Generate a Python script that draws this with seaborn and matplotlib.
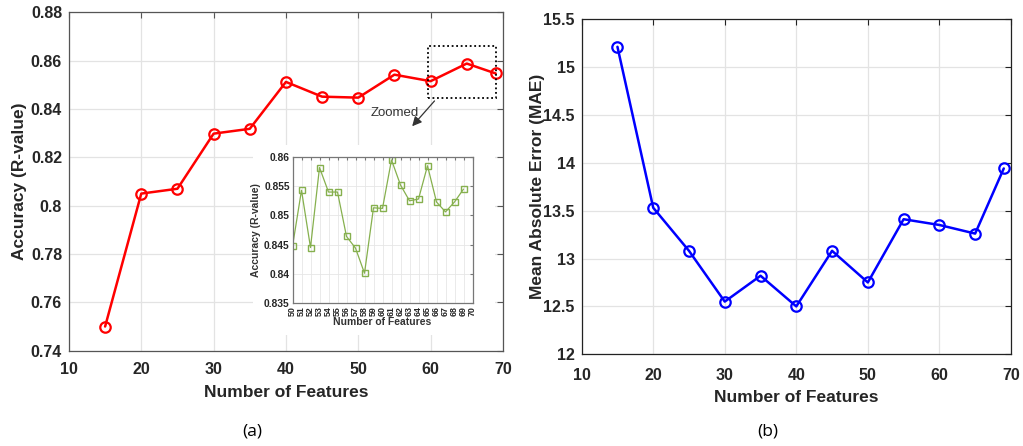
import numpy as np
import pandas as pd
import matplotlib
matplotlib.use("Agg")
import matplotlib.pyplot as plt
from matplotlib.patches import Rectangle
import seaborn as sns

# ---- data -------------------------------------------------------------
features = [15, 20, 25, 30, 35, 40, 45, 50, 55, 60, 65, 69]
accuracy = [0.750, 0.805, 0.807, 0.8298, 0.8318, 0.8512, 0.8451, 0.8447,
            0.8542, 0.8515, 0.8588, 0.8547]
mae = [15.21, 13.53, 13.08, 12.55, 12.82, 12.50, 13.08, 12.75,
       13.41, 13.35, 13.26, 13.94]

zoom_features = list(range(50, 70))
zoom_accuracy = [0.8447, 0.8543, 0.8445, 0.8582, 0.8540, 0.8540, 0.8464,
                 0.8444, 0.8401, 0.8513, 0.8512, 0.8595, 0.8552, 0.8525,
                 0.8528, 0.8585, 0.8523, 0.8506, 0.8523, 0.8545]

x_ticks = [10, 20, 30, 40, 50, 60, 70]
acc_ticks = [0.74, 0.76, 0.78, 0.80, 0.82, 0.84, 0.86, 0.88]
acc_labels = ["0.74", "0.76", "0.78", "0.8", "0.82", "0.84", "0.86", "0.88"]
mae_ticks = [12, 12.5, 13, 13.5, 14, 14.5, 15, 15.5]
mae_labels = ["12", "12.5", "13", "13.5", "14", "14.5", "15", "15.5"]
zoom_x_ticks = list(range(50, 71))
zoom_y_ticks = [0.835, 0.84, 0.845, 0.85, 0.855, 0.86]
zoom_y_labels = ["0.835", "0.84", "0.845", "0.85", "0.855", "0.86"]

df_main = pd.DataFrame({"features": features, "accuracy": accuracy, "mae": mae})
df_zoom = pd.DataFrame({"features": zoom_features, "accuracy": zoom_accuracy})

# ---- style ------------------------------------------------------------
sns.set_theme(style="white")
plt.rcParams["font.family"] = ["Liberation Sans", "DejaVu Sans"]
plt.rcParams["axes.axisbelow"] = True

TXT = "#262626"
GRID = "#e3e3e3"

fig = plt.figure(figsize=(10.23, 4.46), dpi=100)
fig.patch.set_facecolor("white")


def style_axes(ax, spine_color, size, pad_x, pad_y, tlen):
    ax.set_facecolor("white")
    for s in ax.spines.values():
        s.set_visible(True)
        s.set_color(spine_color)
        s.set_linewidth(0.9)
    ax.grid(True, color=GRID, linewidth=0.9)
    ax.tick_params(axis="both", which="major", direction="in", length=tlen,
                   width=0.8, color=spine_color, top=True, right=True,
                   labelcolor=TXT, labelsize=size)
    ax.tick_params(axis="x", pad=pad_x)
    ax.tick_params(axis="y", pad=pad_y)
    for lbl in ax.get_xticklabels() + ax.get_yticklabels():
        lbl.set_fontweight("bold")


# ---- (a) accuracy -----------------------------------------------------
ax1 = fig.add_axes([0.0674, 0.2137, 0.4242, 0.7587])
sns.lineplot(data=df_main, x="features", y="accuracy", ax=ax1, color="#ff0000",
             linewidth=1.8, marker="o", markersize=7.5, markerfacecolor="none",
             markeredgecolor="#ff0000", markeredgewidth=1.6)
ax1.set_xlim(10, 70)
ax1.set_ylim(0.74, 0.88)
ax1.set_xticks(x_ticks)
ax1.set_xticklabels([str(v) for v in x_ticks])
ax1.set_yticks(acc_ticks)
ax1.set_yticklabels(acc_labels)
style_axes(ax1, "#555555", 11.5, 8, 5, 4)
ax1.set_xlabel("Number of Features", fontsize=12.5, fontweight="bold",
               color=TXT, labelpad=6)
ax1.set_ylabel("Accuracy (R-value)", fontsize=12.5, fontweight="bold",
               color=TXT, labelpad=2.5)

# white backing behind the zoomed inset
ax1.add_patch(Rectangle((253 / 1023, 1 - 335 / 446), 242 / 1023, 190 / 446,
                        transform=fig.transFigure, facecolor="white",
                        edgecolor="none", zorder=3, clip_on=False))

# dotted box marking the zoomed region
ax1.add_patch(Rectangle((59.6, 0.8446), 9.4, 0.0216, facecolor="none",
                        edgecolor="black", linestyle=(0, (1, 1.5)),
                        linewidth=1.3, zorder=4, clip_on=False))
ax1.annotate("", xy=(57.2, 0.8320), xytext=(60.8, 0.8442),
             arrowprops=dict(arrowstyle="-|>", color="#333333", lw=0.9,
                             mutation_scale=14), zorder=4)
ax1.text(55.1, 0.8383, "Zoomed", fontsize=9.5, color="#333333",
         ha="center", va="center", zorder=4)

# ---- inset -------------------------------------------------------------
axi = fig.add_axes([292.5 / 1023, 1 - 303 / 446, 180 / 1023, 146 / 446])
sns.lineplot(data=df_zoom, x="features", y="accuracy", ax=axi, color="#86b04e",
             linewidth=0.9, marker="s", markersize=4, markerfacecolor="none",
             markeredgecolor="#86b04e", markeredgewidth=1.0)
axi.set_xlim(50, 70)
axi.set_ylim(0.835, 0.86)
axi.set_xticks(zoom_x_ticks)
axi.set_xticklabels([str(v) for v in zoom_x_ticks], rotation=90)
axi.set_yticks(zoom_y_ticks)
axi.set_yticklabels(zoom_y_labels)
style_axes(axi, "#777777", 7.4, 2, 2, 2)
axi.tick_params(axis="x", labelsize=6.4)
axi.grid(True, color="#e6e6e6", linewidth=0.6)
axi.set_xlabel("Number of Features", fontsize=7.5, fontweight="bold",
               color="#333333", labelpad=1)
axi.set_ylabel("Accuracy (R-value)", fontsize=7.5, fontweight="bold",
               color="#333333", labelpad=2)

# ---- (b) MAE ------------------------------------------------------------
ax2 = fig.add_axes([0.5686, 0.2056, 0.4196, 0.7518])
sns.lineplot(data=df_main, x="features", y="mae", ax=ax2, color="#0000ff",
             linewidth=1.8, marker="o", markersize=7.5, markerfacecolor="none",
             markeredgecolor="#0000ff", markeredgewidth=1.6)
ax2.set_xlim(10, 70)
ax2.set_ylim(12, 15.5)
ax2.set_xticks(x_ticks)
ax2.set_xticklabels([str(v) for v in x_ticks])
ax2.set_yticks(mae_ticks)
ax2.set_yticklabels(mae_labels)
style_axes(ax2, "#222222", 11.5, 10, 5, 4)
ax2.set_xlabel("Number of Features", fontsize=12.5, fontweight="bold",
               color=TXT, labelpad=5)
ax2.set_ylabel("Mean Absolute Error (MAE)", fontsize=12.5, fontweight="bold",
               color=TXT, labelpad=-1)

# ---- panel captions ------------------------------------------------------
fig.text(252 / 1023, 1 - 432 / 446, "(a)", fontsize=12.5, color="black",
         ha="center", va="center", family=["Open Sans", "DejaVu Sans"])
fig.text(768 / 1023, 1 - 432 / 446, "(b)", fontsize=12.5, color="black",
         ha="center", va="center", family=["Open Sans", "DejaVu Sans"])

fig.savefig("out.png", dpi=100, facecolor="white")
